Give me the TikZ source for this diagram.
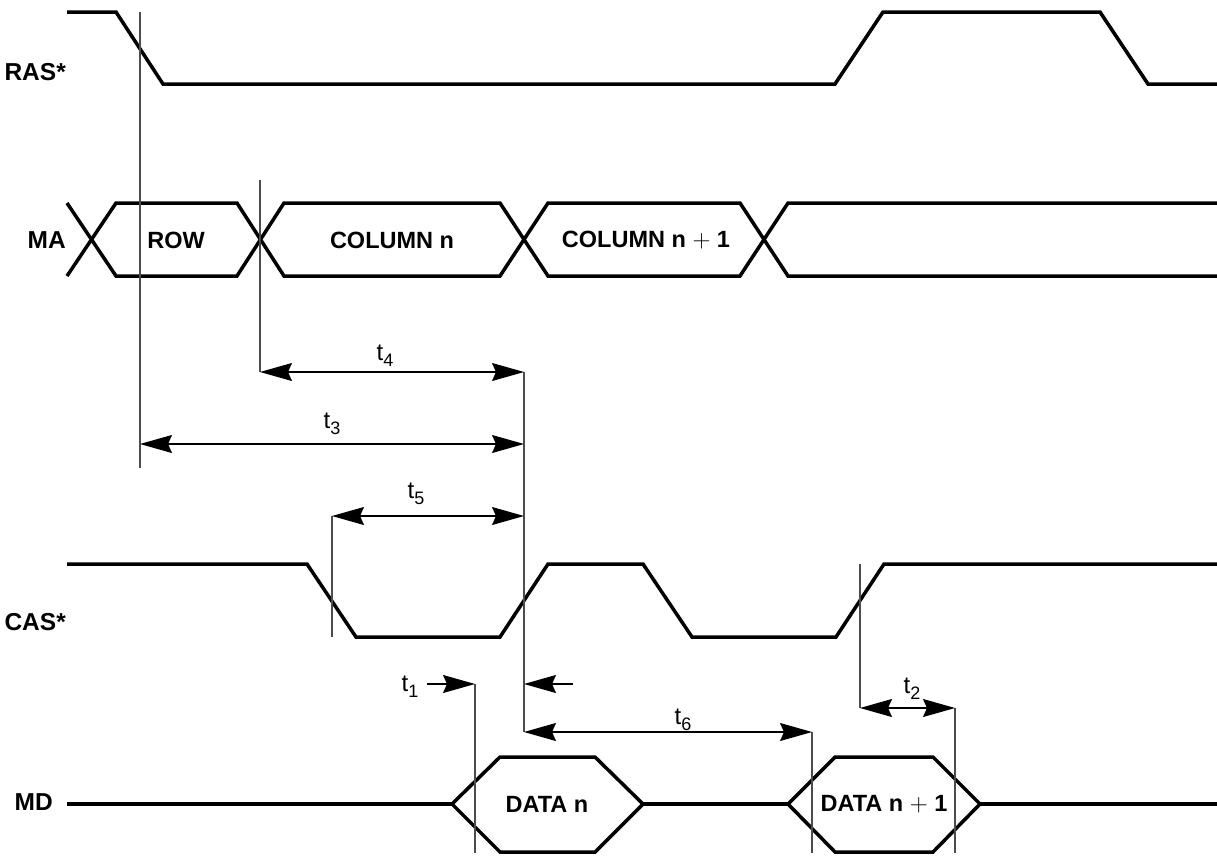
\documentclass[tikz,border=0pt]{standalone}
\usepackage{fontspec}
\setmainfont{Liberation Sans}
\usetikzlibrary{arrows.meta}

% timing label with a lowered index
\newcommand{\tlab}[1]{t\raisebox{-0.45ex}{\fontsize{18}{18}\selectfont #1}}

\begin{document}
\begin{tikzpicture}[x=1pt, y=-1pt,
  wave/.style={line width=3.5pt, line join=miter},
  guide/.style={line width=1.2pt, draw=black!70},
  sig/.style={anchor=east, inner sep=0pt, font=\fontsize{24.5}{24.5}\selectfont\bfseries},
  bus/.style={inner sep=0pt, font=\fontsize{23.5}{23.5}\selectfont\bfseries},
  tnote/.style={inner sep=0pt, font=\fontsize{24}{24}\selectfont},
  tip/.style={-{Stealth[length=32pt, width=18pt, inset=4pt]}, line width=1.2pt},
  dim/.style={{Stealth[length=32pt, width=18pt, inset=4pt]}-{Stealth[length=32pt, width=18pt, inset=4pt]}, line width=1.2pt}
]
  \useasboundingbox (0,0) rectangle (1217,855);

  % Signal names (left column)
  \node[sig] (ras) at (66,72)  {RAS*};
  \node[sig] (ma)  at (66,240) {MA};
  \node[sig] (cas) at (66,622) {CAS*};
  \node[sig] (md)  at (53,802) {MD};

  % Waveforms
  \draw[wave] (67,12) -- (116,12) -- (163,84) -- (835,84) -- (883,12) -- (1100,12) -- (1148,84) -- (1217,84);
  \draw[wave] (67,203) -- (116,276) -- (237,276) -- (284,203) -- (500,203) -- (548,276) -- (740,276) -- (788,203) -- (1217,203);
  \draw[wave] (67,276) -- (116,203) -- (237,203) -- (284,276) -- (500,276) -- (548,203) -- (740,203) -- (788,276) -- (1217,276);
  \draw[wave] (67,564) -- (307,564) -- (356,637) -- (500,637) -- (548,564) -- (643,564) -- (692,637) -- (836,637) -- (884,564) -- (1217,564);
  \draw[wave] (67,804) -- (452,804) (643,804) -- (788,804) (980,804) -- (1217,804);
  \draw[wave] (452,804) -- (500,757) -- (595,757) -- (643,804) -- (595,852) -- (500,852) -- cycle;
  \draw[wave] (788,804) -- (835,757) -- (933,757) -- (980,804) -- (933,852) -- (835,852) -- cycle;

  % Bus contents
  \node[bus] (row)   at (176,240) {ROW};
  \node[bus] (coln)  at (392,240) {COLUMN n};
  \node[bus] (colnn) at (646,240) {COLUMN n $+$ 1};
  \node[bus] (datan)  at (547,804) {DATA n};
  \node[bus] (datann) at (884,804) {DATA n $+$ 1};

  % Reference points on the edges
  \coordinate (rasfall)  at (140,12);
  \coordinate (rasend)   at (140,468);
  \coordinate (colstart) at (260,180);
  \coordinate (colend)   at (260,372);
  \coordinate (castop)   at (524,372);
  \coordinate (casrise)  at (524,732);
  \coordinate (casfall)  at (332,516);
  \coordinate (casfallb) at (332,637);
  \coordinate (dvalid)   at (475,684);
  \coordinate (dvalidb)  at (475,853);
  \coordinate (casrise2) at (860,564);
  \coordinate (casrise2b) at (860,708);
  \coordinate (dhold)    at (955,708);
  \coordinate (dholdb)   at (955,853);
  \coordinate (dnext)    at (812,732);
  \coordinate (dnextb)   at (812,853);

  % Guide lines
  \draw[guide] (rasfall) -- (rasend);
  \draw[guide] (colstart) -- (colend);
  \draw[guide] (castop) -- (casrise);
  \draw[guide] (casfall) -- (casfallb);
  \draw[guide] (dvalid) -- (dvalidb);
  \draw[guide] (casrise2) -- (casrise2b);
  \draw[guide] (dhold) -- (dholdb);
  \draw[guide] (dnext) -- (dnextb);

  % Timing arrows
  \coordinate (t3l) at (140,444);
  \coordinate (t3r) at (524,444);
  \coordinate (t5r) at (524,516);
  \coordinate (t1tail) at (427,684);
  \coordinate (t1head) at (524,684);
  \coordinate (t0tail) at (573,684);
  \draw[dim] (colend) -- (castop);
  \draw[dim] (t3l) -- (t3r);
  \draw[dim] (casfall) -- (t5r);
  \draw[tip] (t1tail) -- (dvalid);
  \draw[tip] (t0tail) -- (t1head);
  \draw[dim] (casrise) -- (dnext);
  \draw[dim] (casrise2b) -- (dhold);

  % Timing labels
  \node[tnote] (t4) at (385,356) {\tlab{4}};
  \node[tnote] (t3) at (332,424) {\tlab{3}};
  \node[tnote] (t5) at (416,494) {\tlab{5}};
  \node[tnote] (t1) at (410,687) {\tlab{1}};
  \node[tnote] (t6) at (683,720) {\tlab{6}};
  \node[tnote] (t2) at (912,689) {\tlab{2}};
\end{tikzpicture}
\end{document}
